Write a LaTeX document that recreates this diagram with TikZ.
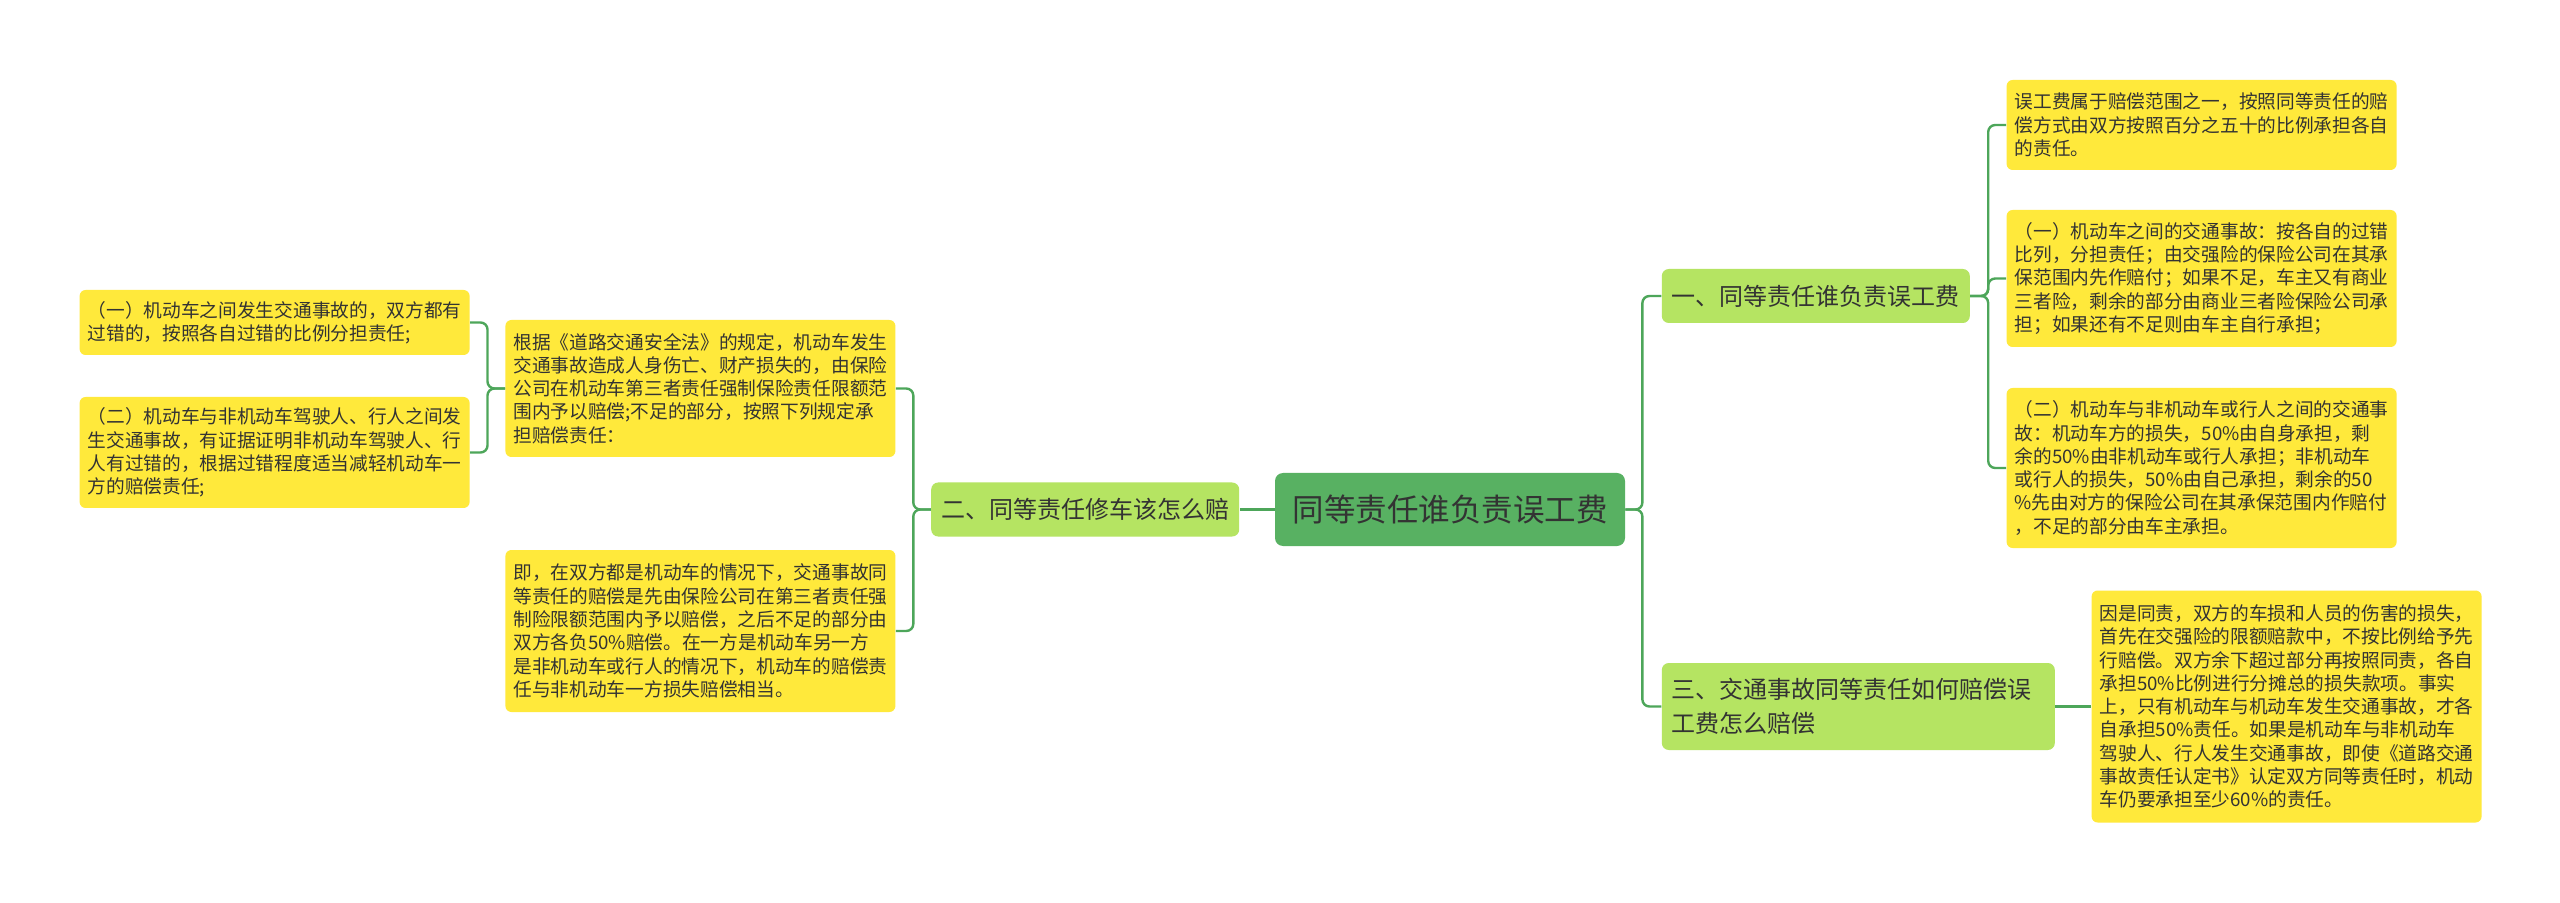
\documentclass[tikz,border=0pt]{standalone}
\usepackage{fontspec}
\setmainfont{Noto Sans CJK SC}
\usetikzlibrary{positioning}

\definecolor{rootgreen}{HTML}{58B162}
\definecolor{topicgreen}{HTML}{B5E462}
\definecolor{leafyellow}{HTML}{FFE93B}
\definecolor{linegreen}{HTML}{4DA65A}
\definecolor{inkgray}{HTML}{333333}

\begin{document}
\begin{tikzpicture}[x=0.5pt, y=-0.5pt,
    root/.style={fill=rootgreen, rounded corners=4pt, inner sep=0pt, minimum width=175pt, minimum height=36.5pt, font=\fontsize{15.75pt}{18pt}\selectfont, text=inkgray},
    topic/.style={fill=topicgreen, rounded corners=3.5pt, inner xsep=5pt, inner ysep=0pt, minimum height=27pt, font=\fontsize{12pt}{17pt}\selectfont, text=inkgray},
    leaf/.style={fill=leafyellow, rounded corners=3pt, align=left, text width=187pt, inner xsep=4pt, inner ysep=0pt, font=\fontsize{9.35pt}{11.65pt}\selectfont, text=inkgray},
    link/.style={draw=linegreen, line width=1.2pt, rounded corners=3.5pt}
  ]
    \fill[white] (0,0) rectangle (2560,903);
    \useasboundingbox (0,0) rectangle (2560,903);

    \node[root] (root) at (1450,509.5) {同等责任谁负责误工费};
    \node[topic, right=18pt of root, yshift=106.75pt] (t1) {一、同等责任谁负责误工费};
    \node[topic, left=17.5pt of root] (t2) {二、同等责任修车该怎么赔};
    \node[topic, right=18pt of root, yshift=-98.5pt, align=left, text width=186.5pt, minimum height=43.5pt] (t3) {三、交通事故同等责任如何赔偿误\\工费怎么赔偿};

    \node[leaf, right=18pt of t1, yshift=85.5pt, minimum height=45pt] (r1) {误工费属于赔偿范围之一，按照同等责任的赔\\偿方式由双方按照百分之五十的比例承担各自\\的责任。};
    \node[leaf, right=18pt of t1, yshift=8.75pt, minimum height=68.5pt] (r2) {（一）机动车之间的交通事故：按各自的过错\\比列，分担责任；由交强险的保险公司在其承\\保范围内先作赔付；如果不足，车主又有商业\\三者险，剩余的部分由商业三者险保险公司承\\担；如果还有不足则由车主自行承担；};
    \node[leaf, right=18pt of t1, yshift=-86pt, minimum height=80pt] (r3) {（二）机动车与非机动车或行人之间的交通事\\故：机动车方的损失，50\%由自身承担，剩\\余的50\%由非机动车或行人承担；非机动车\\或行人的损失，50\%由自己承担，剩余的50\\\%先由对方的保险公司在其承保范围内作赔付\\，不足的部分由车主承担。};
    \node[leaf, right=18pt of t3, minimum height=116pt] (r4) {因是同责，双方的车损和人员的伤害的损失，\\首先在交强险的限额赔款中，不按比例给予先\\行赔偿。双方余下超过部分再按照同责，各自\\承担50\%比例进行分摊总的损失款项。事实\\上，只有机动车与机动车发生交通事故，才各\\自承担50\%责任。如果是机动车与非机动车\\驾驶人、行人发生交通事故，即使《道路交通\\事故责任认定书》认定双方同等责任时，机动\\车仍要承担至少60\%的责任。};

    \node[leaf, left=17.5pt of t2, yshift=60.5pt, minimum height=68.5pt] (la) {根据《道路交通安全法》的规定，机动车发生\\交通事故造成人身伤亡、财产损失的，由保险\\公司在机动车第三者责任强制保险责任限额范\\围内予以赔偿;不足的部分，按照下列规定承\\担赔偿责任：};
    \node[leaf, left=17.5pt of t2, yshift=-60.75pt, minimum height=81pt] (lb) {即，在双方都是机动车的情况下，交通事故同\\等责任的赔偿是先由保险公司在第三者责任强\\制险限额范围内予以赔偿，之后不足的部分由\\双方各负50\%赔偿。在一方是机动车另一方\\是非机动车或行人的情况下，机动车的赔偿责\\任与非机动车一方损失赔偿相当。};
    \node[leaf, left=17.5pt of la, yshift=33pt, minimum height=32.5pt] (la1) {（一）机动车之间发生交通事故的，双方都有\\过错的，按照各自过错的比例分担责任;};
    \node[leaf, left=17.5pt of la, yshift=-32pt, minimum height=55.5pt] (la2) {（二）机动车与非机动车驾驶人、行人之间发\\生交通事故，有证据证明非机动车驾驶人、行\\人有过错的，根据过错程度适当减轻机动车一\\方的赔偿责任;};

    \draw[link] (root.east) -- ++(8.5pt,0) |- (t1.west);
    \draw[link] (root.east) -- ++(8.5pt,0) |- (t3.west);
    \draw[link] (root.west) -- (t2.east);
    \draw[link] (t1.east) -- ++(9pt,0) |- (r1.west);
    \draw[link] (t1.east) -- ++(9pt,0) |- (r2.west);
    \draw[link] (t1.east) -- ++(9pt,0) |- (r3.west);
    \draw[link] (t3.east) -- (r4.west);
    \draw[link] (t2.west) -- ++(-8.75pt,0) |- (la.east);
    \draw[link] (t2.west) -- ++(-8.75pt,0) |- (lb.east);
    \draw[link] (la.west) -- ++(-8.75pt,0) |- (la1.east);
    \draw[link] (la.west) -- ++(-8.75pt,0) |- (la2.east);
\end{tikzpicture}
\end{document}
